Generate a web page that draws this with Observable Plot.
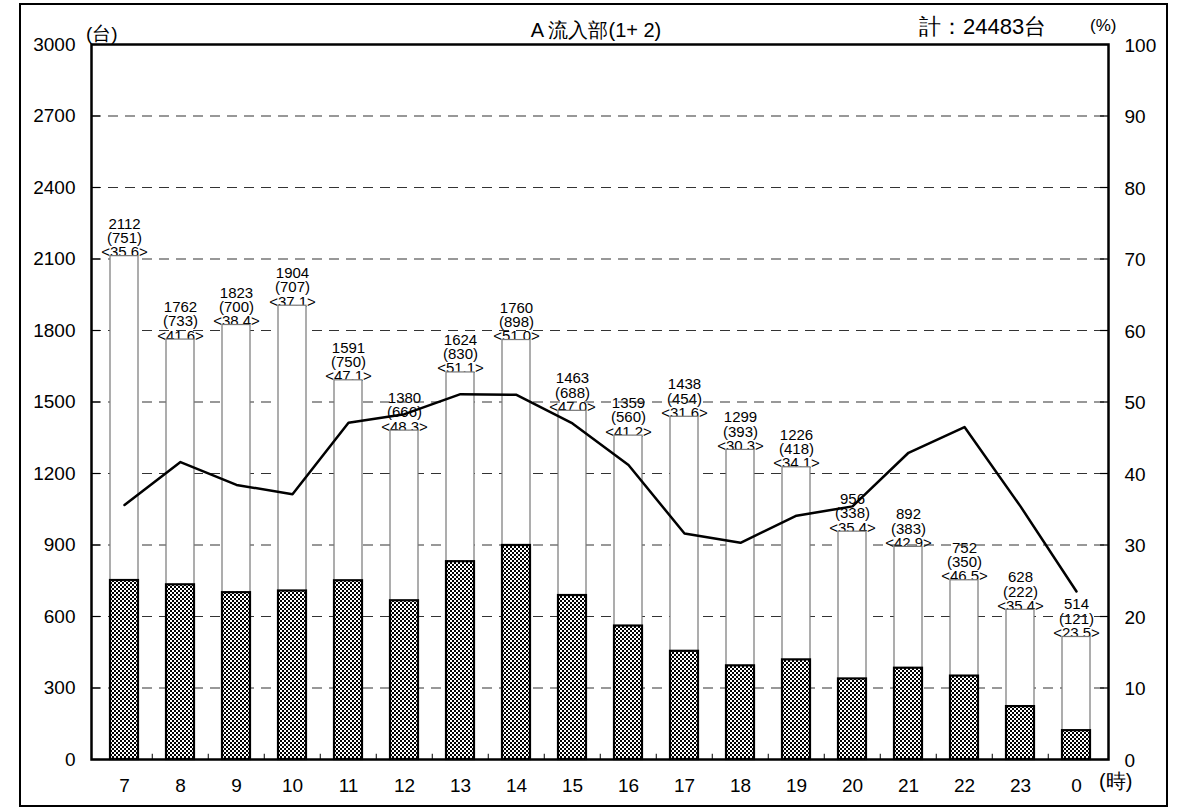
<!DOCTYPE html>
<html><head><meta charset="utf-8">
<script src="https://cdn.jsdelivr.net/npm/d3@7"></script>
<script src="https://cdn.jsdelivr.net/npm/@observablehq/plot@0.6"></script>
<style>
body{margin:0;background:#fff;font-family:"Liberation Sans",Arial,sans-serif}
#chart{position:relative;width:1184px;height:811px}
</style>
</head><body><div id="chart"></div>
<script>
const hours = ["7","8","9","10","11","12","13","14","15","16","17","18","19","20","21","22","23","0"];
const totals = [2112,1762,1823,1904,1591,1380,1624,1760,1463,1359,1438,1299,1226,956,892,752,628,514];
const heavy = [751,733,700,707,750,666,830,898,688,560,454,393,418,338,383,350,222,121];
const pct = [35.6,41.6,38.4,37.1,47.1,48.3,51.1,51.0,47.0,41.2,31.6,30.3,34.1,35.4,42.9,46.5,35.4,23.5];
const leftTicks = [0,300,600,900,1200,1500,1800,2100,2400,2700,3000];
const rightTicks = [0,10,20,30,40,50,60,70,80,90,100];
const title = "A 流入部(1+ 2)";
const totalLabel = "計：24483台";
const unitLeft = "(台)";
const unitRight = "(%)";
const unitX = "(時)";

const rows = hours.map((h, i) => ({h, total: totals[i], heavy: heavy[i], pct: pct[i]}));
const pctToY = v => v * 30; // 100% spans the 0-3000 axis
const font = "Liberation Sans, Arial, sans-serif";

const chart = Plot.plot({
  width: 1184,
  height: 811,
  marginLeft: 91,
  marginRight: 76,
  marginTop: 44,
  marginBottom: 52,
  style: {fontFamily: font, background: "white", color: "#000"},
  x: {domain: hours, paddingInner: 0.5, paddingOuter: 0.25, axis: null},
  y: {domain: [0, 3000], axis: null},
  marks: [
    Plot.text(rows, {
      x: "h", y: "total",
      text: d => `${d.total}\n(${d.heavy})\n<${d.pct.toFixed(1)}>`,
      lineAnchor: "bottom", dy: 1, fontSize: 15, lineHeight: 0.95, fill: "#000"
    }),
    Plot.ruleY(leftTicks.filter(t => t > 0 && t < 3000), {stroke: "#333", strokeWidth: 1.2, strokeDasharray: "10,7"}),
    Plot.barY(rows, {x: "h", y: "total", fill: "white", stroke: "#777", strokeWidth: 1.2}),
    Plot.barY(rows, {x: "h", y: "heavy", fill: "url(#checker)", stroke: "#000", strokeWidth: 2.2}),
    Plot.line(rows, {x: "h", y: d => pctToY(d.pct), stroke: "#000", strokeWidth: 2.5}),
    // left axis: inward ticks + labels
    Plot.axisY(leftTicks, {anchor: "left", label: null, tickSize: 9, dx: 9, tickFormat: () => "", strokeWidth: 1.2}),
    Plot.axisY(leftTicks, {anchor: "left", label: null, tickSize: 0, tickPadding: 16, fontSize: 19, fill: "#000", tickFormat: d => String(d)}),
    // right axis: inward ticks + labels (percent)
    Plot.axisY(rightTicks.map(pctToY), {anchor: "right", label: null, tickSize: 9, dx: -9, tickFormat: () => "", strokeWidth: 1.2}),
    Plot.axisY(rightTicks.map(pctToY), {anchor: "right", label: null, tickSize: 0, tickPadding: 16, fontSize: 19, fill: "#000", tickFormat: d => String(d / 30), dy: 1}),
    // x axis labels and separators
    Plot.axisX(hours, {anchor: "bottom", label: null, tickSize: 0, tickPadding: 19, fontSize: 19, fill: "#000"}),
    Plot.ruleX(hours.slice(1), {x: d => d, y1: 0, y2: 22, dx: -28.25, stroke: "#000", strokeWidth: 1}),
    Plot.frame({stroke: "#000", strokeWidth: 2.5})
  ]
});

const svg = d3.select(chart);
svg.insert("defs", ":first-child").html(
  `<pattern id="checker" patternUnits="userSpaceOnUse" width="4" height="4">
     <rect width="4" height="4" fill="#fff"/>
     <rect x="0" y="0" width="2" height="2" fill="#000"/>
     <rect x="2" y="2" width="2" height="2" fill="#000"/>
   </pattern>`);
// outer border
svg.insert("rect", "defs + *").attr("x", 20).attr("y", 4).attr("width", 1147).attr("height", 802)
  .attr("fill", "none").attr("stroke", "#000").attr("stroke-width", 2);
const ann = svg.append("g").attr("font-family", font).attr("fill", "#000").attr("text-anchor", "start");
ann.append("text").attr("x", 596).attr("y", 37).attr("text-anchor", "middle").attr("font-size", 20).text(title);
ann.append("text").attr("x", 919).attr("y", 34).attr("font-size", 22).text(totalLabel);
ann.append("text").attr("x", 86).attr("y", 40).attr("font-size", 19).text(unitLeft);
ann.append("text").attr("x", 1090).attr("y", 31).attr("font-size", 17).text(unitRight);
ann.append("text").attr("x", 1099).attr("y", 788).attr("font-size", 20).text(unitX);

document.getElementById("chart").appendChild(chart);
</script>
</body></html>
